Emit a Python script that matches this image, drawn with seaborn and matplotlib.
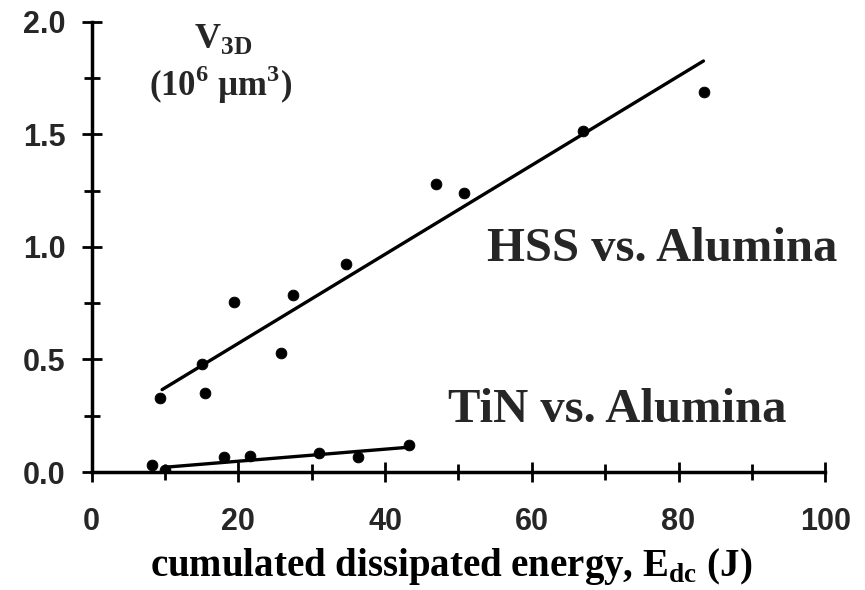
import matplotlib
matplotlib.use('Agg')
import matplotlib.pyplot as plt
import seaborn as sns
import pandas as pd
from matplotlib.ticker import MultipleLocator

# Data
hss_energy = [9.3, 15.0, 15.5, 19.4, 25.8, 27.5, 34.7, 47.0, 50.7, 67.0, 83.5]
hss_volume = [0.33, 0.48, 0.35, 0.755, 0.53, 0.785, 0.925, 1.28, 1.24, 1.515, 1.69]
hss_fit_energy = [9.6, 83.4]
hss_fit_volume = [0.366, 1.826]

tin_energy = [8.2, 10.0, 18.0, 21.6, 31.0, 36.3, 43.2]
tin_volume = [0.03, 0.01, 0.065, 0.07, 0.085, 0.065, 0.12]
tin_fit_energy = [10.3, 43.2]
tin_fit_volume = [0.022, 0.11]

x_ticks = [0, 20, 40, 60, 80, 100]
y_ticks = [0.0, 0.5, 1.0, 1.5, 2.0]

hss = pd.DataFrame({'E': hss_energy, 'V': hss_volume})
tin = pd.DataFrame({'E': tin_energy, 'V': tin_volume})
hss_fit = pd.DataFrame({'E': hss_fit_energy, 'V': hss_fit_volume})
tin_fit = pd.DataFrame({'E': tin_fit_energy, 'V': tin_fit_volume})

sns.set_theme(style="ticks")
plt.rcParams['font.family'] = ['Liberation Serif', 'DejaVu Serif']
plt.rcParams['mathtext.fontset'] = 'custom'
plt.rcParams['mathtext.rm'] = 'Liberation Serif'
plt.rcParams['mathtext.bf'] = 'Liberation Serif:bold'

fig = plt.figure(figsize=(8.65, 5.90), dpi=100)
ax = fig.add_axes([0.106, 0.2, 0.848, 0.763])

sns.lineplot(data=hss_fit, x='E', y='V', color='black', lw=2.4, ax=ax)
sns.lineplot(data=tin_fit, x='E', y='V', color='black', lw=2.4, ax=ax)
sns.scatterplot(data=hss, x='E', y='V', color='black', s=60, edgecolor='black', ax=ax, zorder=3)
sns.scatterplot(data=tin, x='E', y='V', color='black', s=60, edgecolor='black', ax=ax, zorder=3)

ax.set_xlim(0, 100)
ax.set_ylim(0, 2.0)
ax.set_xticks(x_ticks)
ax.set_yticks(y_ticks)
ax.xaxis.set_minor_locator(MultipleLocator(10))
ax.yaxis.set_minor_locator(MultipleLocator(0.25))
ax.set_xticklabels([str(t) for t in x_ticks], fontfamily='Liberation Sans', fontweight='bold', fontsize=22)
ax.set_yticklabels([f'{t:.1f}' for t in y_ticks], fontfamily='Liberation Sans', fontweight='bold', fontsize=22)

sns.despine(ax=ax)
for side in ['left', 'bottom']:
    ax.spines[side].set_linewidth(2.5)
    ax.spines[side].set_color('black')
ax.tick_params(which='both', direction='inout', length=14, width=2, color='black')
ax.tick_params(axis='y', pad=12)
ax.tick_params(axis='x', pad=18)
ax.tick_params(which='minor', length=11)

ax.set_xlabel(r'cumulated dissipated energy, E$_{\mathbf{dc}}$ (J)', fontsize=28,
              fontweight='bold', color='black')
ax.xaxis.set_label_coords(0.49, -0.165)
ax.xaxis.label.set_va('top')
ax.set_ylabel('')

ax.text(17.9, 1.925, r'V$_{\mathbf{3D}}$', fontsize=26, fontweight='bold', ha='center', va='center')
ax.text(17.6, 1.72, r'(10$^{\mathbf{6}}$ µm$^{\mathbf{3}}$)', fontsize=25, fontweight='bold',
        ha='center', va='center')
ax.text(77.8, 0.99, 'HSS vs. Alumina', fontsize=35, fontweight='bold', ha='center', va='center')
ax.text(71.7, 0.275, 'TiN vs. Alumina', fontsize=35, fontweight='bold', ha='center', va='center')

plt.savefig('out.png', dpi=100)
plt.close()
